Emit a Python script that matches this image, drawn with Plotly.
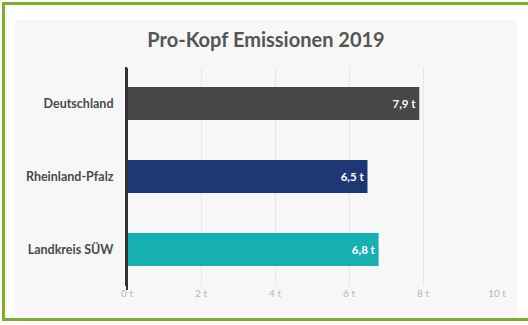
import plotly.graph_objects as go

categories = ["Deutschland", "Rheinland-Pfalz", "Landkreis SÜW"]
values = [7.9, 6.5, 6.8]
value_labels = ["7,9 t", "6,5 t", "6,8 t"]
bar_colors = ["#474747", "#1e3876", "#17b0b2"]
tick_vals = [0, 2, 4, 6, 8, 10]
tick_text = ["0 t", "2 t", "4 t", "6 t", "8 t", "10 t"]

W, H = 528, 325
x0, x1 = 127, 497
y_top, y_bot = 67, 286

fig = go.Figure(go.Bar(
    y=categories, x=values, orientation="h",
    marker=dict(color=bar_colors, line=dict(width=0)),
    text=value_labels, textposition="inside", insidetextanchor="end",
    textfont=dict(family="Lato", size=11.5, color="white", weight="bold"),
    cliponaxis=False,
))

fig.update_layout(
    width=W, height=H,
    margin=dict(l=0, r=0, t=0, b=0, autoexpand=False),
    paper_bgcolor="white", plot_bgcolor="rgba(0,0,0,0)",
    showlegend=False, bargap=0.55,
    title=dict(text="<b>Pro-Kopf Emissionen 2019</b>", x=266 / W, xanchor="center",
               y=1 - 40 / H, yanchor="middle", automargin=False,
               font=dict(family="Lato", size=20, color="#555555")),
    xaxis=dict(domain=[x0 / W, x1 / W], range=[0, 10], tickvals=tick_vals, ticktext=tick_text,
               showgrid=True, gridcolor="#e6e6e6", gridwidth=1, zeroline=False, automargin=False,
               tickfont=dict(family="Lato", size=10, color="#b8b8b8"), ticks="", ticklen=0,
               anchor="y", showline=False),
    yaxis=dict(domain=[1 - y_bot / H, 1 - y_top / H], autorange="reversed", automargin=False,
               showgrid=False, zeroline=False, showline=True, linecolor="#333333", linewidth=2,
               tickfont=dict(family="Lato", size=12.5, color="#4a4a4a", weight="bold"),
               ticks="", ticklabelstandoff=9),
    shapes=[
        dict(type="rect", xref="paper", yref="paper", x0=15 / W, x1=517 / W,
             y0=1 - 316 / H, y1=1 - 20 / H, fillcolor="#f7f7f7", line=dict(width=0), layer="below"),
        dict(type="line", xref="paper", yref="paper", x0=3.5 / W, x1=3.5 / W,
             y0=1 - 320 / H, y1=1 - 2 / H, line=dict(color="#7fae2a", width=3)),
        dict(type="line", xref="paper", yref="paper", x0=2 / W, x1=1,
             y0=1 - 3.5 / H, y1=1 - 3.5 / H, line=dict(color="#7fae2a", width=3)),
        dict(type="line", xref="paper", yref="paper", x0=2 / W, x1=1,
             y0=1 - 319.5 / H, y1=1 - 319.5 / H, line=dict(color="#7fae2a", width=3)),
        dict(type="line", xref="paper", yref="paper", x0=x0 / W, x1=x0 / W,
             y0=1 - 290 / H, y1=1 - 68 / H, line=dict(color="#333333", width=2)),
    ],
)

fig.write_html("out.html")
